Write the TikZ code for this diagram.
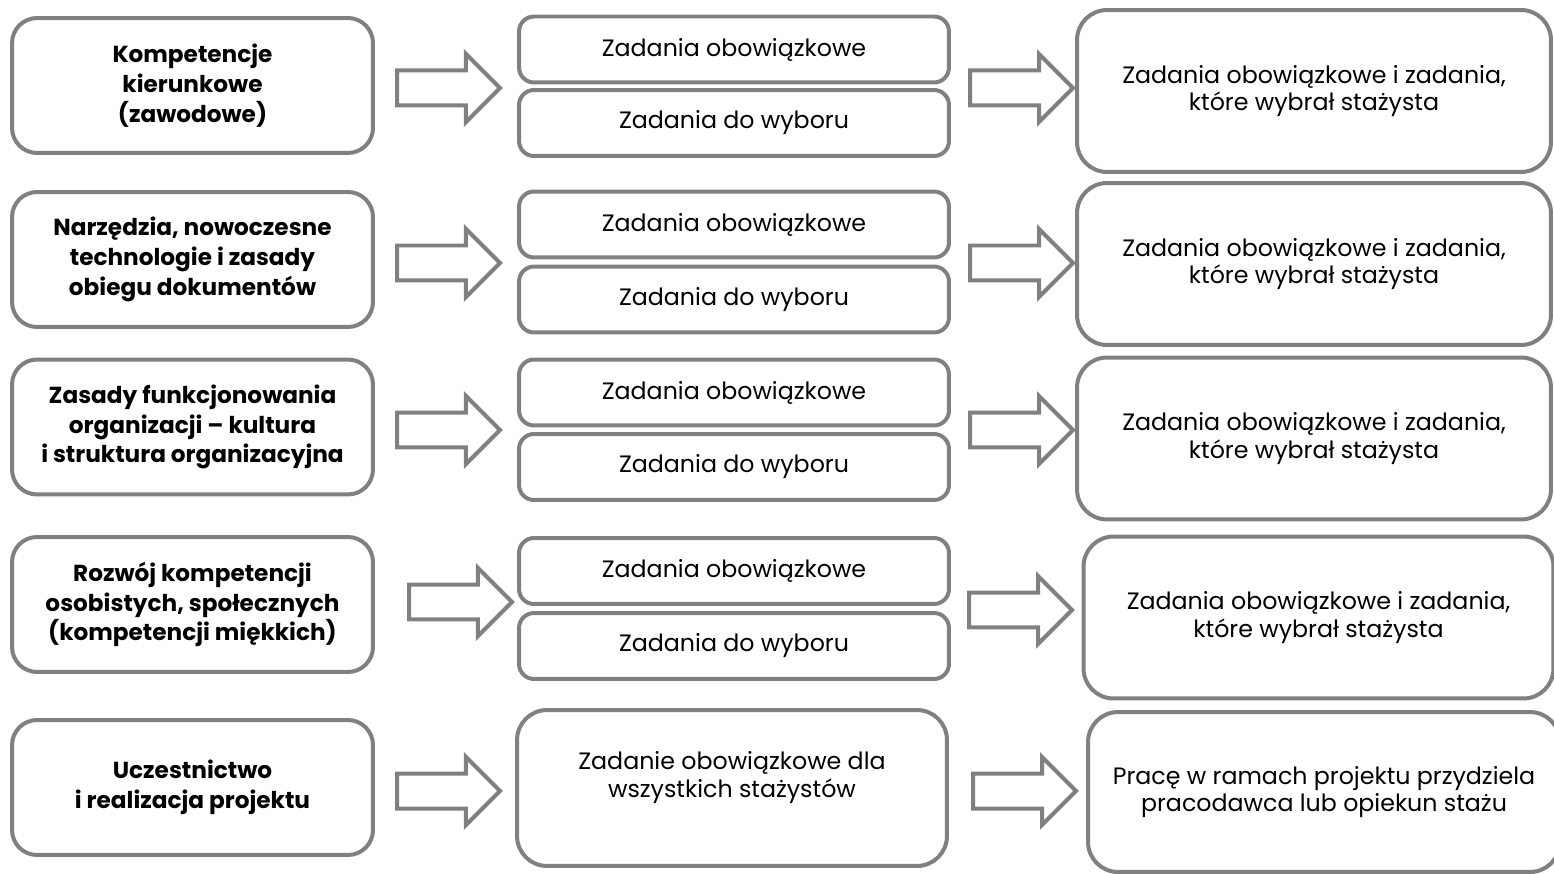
\documentclass[tikz,border=0pt]{standalone}
\usepackage{fontspec}
\setmainfont{Poppins}
\usepackage{tikz}
\usetikzlibrary{shapes}
\usetikzlibrary{positioning}
\usepackage{xcolor}
\definecolor{ramka}{RGB}{128,128,128}

\tikzset{
  obszar/.style={draw=ramka, line width=0.8mm, rounded corners=5mm, align=center,
    minimum width=72.2mm, minimum height=27mm, font=\bfseries\fontsize{13.2}{17}\selectfont},
  zadanie/.style={draw=ramka, line width=0.8mm, rounded corners=3mm, align=center,
    minimum width=86mm, minimum height=13.2mm, font=\fontsize{13.5}{16}\selectfont},
  wynik/.style={draw=ramka, line width=0.8mm, rounded corners=6mm, align=center,
    minimum width=94.8mm, minimum height=32.4mm, font=\fontsize{13.5}{15.8}\selectfont},
  strzalka/.style={single arrow, draw=ramka, line width=0.8mm, fill=white, anchor=tail,
    text height=0pt, text depth=0pt, inner xsep=0pt, inner ysep=3.1mm,
    minimum height=20.6mm, single arrow head extend=3.3mm}
}

\begin{document}
\begin{tikzpicture}[x=0.02cm,y=-0.02cm]
\useasboundingbox (0,0) rectangle (1554,874);
% wiersz 1
\node[obszar] (k1) at (192.5,85.5) {Kompetencje\\kierunkowe\\(zawodowe)};
\node[strzalka] (s1a) at (395,88) {};
\node[zadanie] (o1) at (734,49.5) {Zadania obowiązkowe};
\node[zadanie] (w1) at (734,123) {Zadania do wyboru};
\node[strzalka] (s1b) at (968,88) {};
\node[wynik] (r1) at (1314,91) {Zadania obowiązkowe i zadania,\\które wybrał stażysta};
% wiersz 2
\node[obszar] (k2) at (192.5,259.5) {Narzędzia, nowoczesne\\technologie i zasady\\obiegu dokumentów};
\node[strzalka] (s2a) at (395,263) {};
\node[zadanie] (o2) at (734,224.5) {Zadania obowiązkowe};
\node[zadanie] (w2) at (734,299.5) {Zadania do wyboru};
\node[strzalka] (s2b) at (968,263) {};
\node[wynik] (r2) at (1314,264) {Zadania obowiązkowe i zadania,\\które wybrał stażysta};
% wiersz 3
\node[obszar] (k3) at (192.5,427) {Zasady funkcjonowania\\organizacji -- kultura\\i struktura organizacyjna};
\node[strzalka] (s3a) at (395,430) {};
\node[zadanie] (o3) at (734,392.5) {Zadania obowiązkowe};
\node[zadanie] (w3) at (734,467) {Zadania do wyboru};
\node[strzalka] (s3b) at (968,430) {};
\node[wynik] (r3) at (1314,438.5) {Zadania obowiązkowe i zadania,\\które wybrał stażysta};
% wiersz 4
\node[obszar] (k4) at (192.5,604.5) {Rozwój kompetencji\\osobistych, społecznych\\(kompetencji miękkich)};
\node[strzalka] (s4a) at (407,602) {};
\node[zadanie] (o4) at (734,571) {Zadania obowiązkowe};
\node[zadanie] (w4) at (734,646) {Zadania do wyboru};
\node[strzalka] (s4b) at (967,610) {};
\node[wynik, minimum width=94mm] (r4) at (1318.5,617.5) {Zadania obowiązkowe i zadania,\\które wybrał stażysta};
% wiersz 5
\node[obszar] (k5) at (192.5,787.5) {Uczestnictwo\\i realizacja projektu};
\node[strzalka] (s5a) at (395,791) {};
\node[zadanie, minimum height=31.2mm, rounded corners=6mm, text depth=5.5mm] (o5) at (732,788) {Zadanie obowiązkowe dla\\wszystkich stażystów};
\node[strzalka] (s5b) at (971,791) {};
\node[wynik, minimum width=94.4mm, minimum height=32mm] (r5) at (1324,792) {Pracę w ramach projektu przydziela\\pracodawca lub opiekun stażu};
\end{tikzpicture}
\end{document}
